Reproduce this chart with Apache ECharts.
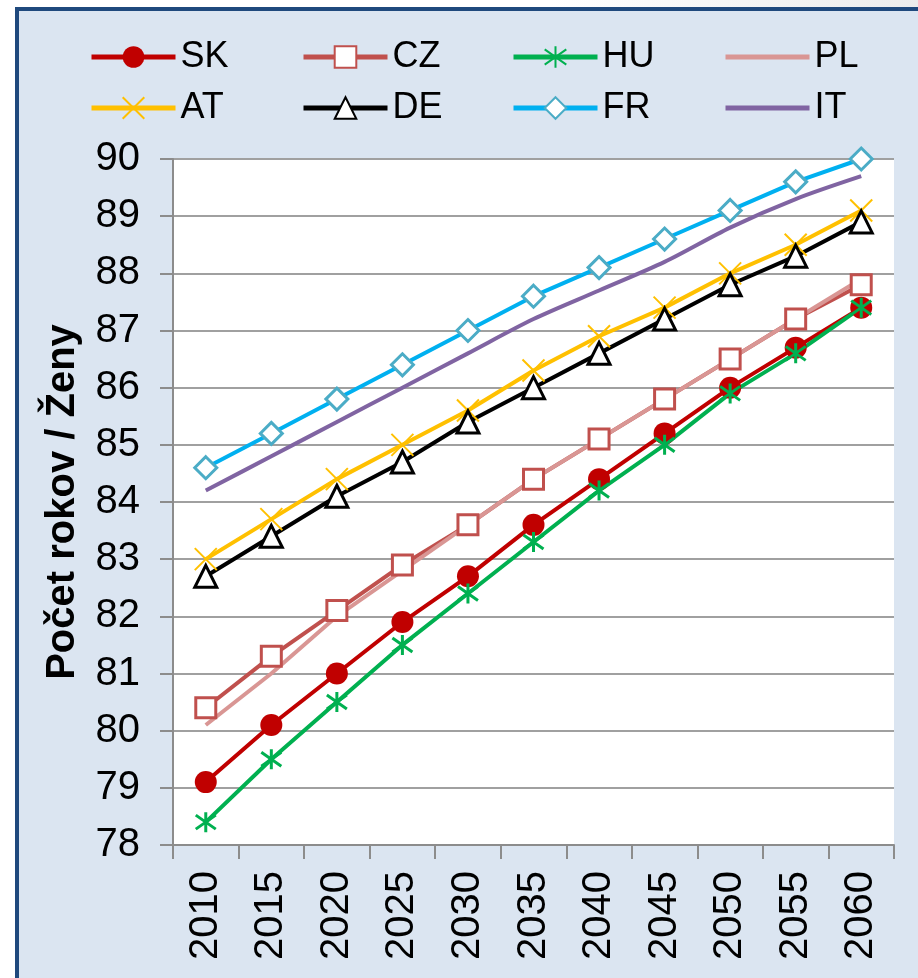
<!DOCTYPE html>
<html>
<head>
<meta charset="utf-8">
<script src="https://cdn.jsdelivr.net/npm/echarts@6/dist/echarts.min.js"></script>
<style>
  html, body {
    margin: 0;
    padding: 0;
    width: 918px;
    height: 978px;
    overflow: hidden;
    background: linear-gradient(to right, #ffffff 60%, #ececec);
  }
  .frame {
    position: absolute;
    left: 15px;
    top: 7px;
    right: 0;
    bottom: 0;
    background: #dbe5f1;
    border-left: 4px solid #1f497d;
    border-top: 4px solid #1f497d;
  }
  #chart {
    position: absolute;
    left: 0;
    top: 0;
    width: 918px;
    height: 978px;
  }
</style>
</head>
<body>
<div class="frame"></div>
<div id="chart"></div>
<script>
const years = ['2010', '2015', '2020', '2025', '2030', '2035', '2040', '2045', '2050', '2055', '2060']

const sk = [79.1, 80.1, 81.0, 81.9, 82.7, 83.6, 84.4, 85.2, 86.0, 86.7, 87.4]
const cz = [80.4, 81.3, 82.1, 82.9, 83.6, 84.4, 85.1, 85.8, 86.5, 87.2, 87.8]
const hu = [78.4, 79.5, 80.5, 81.5, 82.4, 83.3, 84.2, 85.0, 85.9, 86.6, 87.4]
const pl = [80.1, 81.0, 82.0, 82.8, 83.6, 84.4, 85.1, 85.8, 86.5, 87.2, 87.9]
const at = [83.0, 83.7, 84.4, 85.0, 85.6, 86.3, 86.9, 87.4, 88.0, 88.5, 89.1]
const de = [82.7, 83.4, 84.1, 84.7, 85.4, 86.0, 86.6, 87.2, 87.8, 88.3, 88.9]
const fr = [84.6, 85.2, 85.8, 86.4, 87.0, 87.6, 88.1, 88.6, 89.1, 89.6, 90.0]
const it = [84.2, 84.8, 85.4, 86.0, 86.6, 87.2, 87.7, 88.2, 88.8, 89.3, 89.7]

const font = 'Liberation Sans, Arial, sans-serif'
const starPath = 'path://M5,0L5,10M0,1.5L10,8.5M10,1.5L0,8.5'
const crossPath = 'path://M0,0L10,10M10,0L0,10'

const chart = echarts.init(document.getElementById('chart'))

const line = (name, data, color, extra) => Object.assign({
  name,
  type: 'line',
  data,
  lineStyle: { color, width: 4 },
  itemStyle: { color },
  symbol: 'none',
  emphasis: { disabled: true },
}, extra)

// lines without markers get a hidden legend symbol
const noMarker = ['PL', 'IT']

const legendCol = (left, names) => ({
  orient: 'vertical',
  left,
  top: 37,
  padding: 0,
  itemWidth: 84,
  itemHeight: 27,
  itemGap: 11,
  data: names.map(n => (noMarker.includes(n) ? { name: n, itemStyle: { opacity: 0 } } : n)),
  selectedMode: false,
  lineStyle: { width: 5 },
  textStyle: { fontSize: 36, fontFamily: font, color: '#000', lineHeight: 40 },
})

const option = {
  animation: false,
  backgroundColor: 'transparent',
  legend: [
    legendCol(89, ['SK', 'AT']),
    legendCol(301, ['CZ', 'DE']),
    legendCol(511, ['HU', 'FR']),
    legendCol(723, ['PL', 'IT']),
  ],
  grid: {
    left: 173,
    right: 24,
    top: 159,
    bottom: 133,
    show: true,
    backgroundColor: '#ffffff',
    borderWidth: 0,
  },
  xAxis: {
    type: 'category',
    data: years,
    boundaryGap: true,
    axisLine: { lineStyle: { color: '#8c8c8c', width: 2 } },
    axisTick: { show: true, length: 14, lineStyle: { color: '#8c8c8c', width: 2 } },
    axisLabel: {
      rotate: 90,
      margin: 26,
      fontSize: 40,
      fontFamily: font,
      color: '#000',
      interval: 0,
    },
  },
  yAxis: {
    type: 'value',
    min: 78,
    max: 90,
    interval: 1,
    name: 'Počet rokov / Ženy',
    nameLocation: 'middle',
    nameRotate: 90,
    nameGap: 90,
    nameTextStyle: { fontSize: 40, fontWeight: 'bold', fontFamily: font, color: '#000' },
    axisLine: { show: true, lineStyle: { color: '#8c8c8c', width: 2 } },
    axisTick: { show: true, length: 13, lineStyle: { color: '#8c8c8c', width: 2 } },
    axisLabel: { margin: 33, fontSize: 40, fontFamily: font, color: '#000' },
    splitLine: { lineStyle: { color: '#a0a0a0', width: 2 } },
  },
  series: [
    line('SK', sk, '#c00000', { symbol: 'circle', symbolSize: 22 }),
    line('CZ', cz, '#c0504d', {
      symbol: 'rect', symbolSize: 20,
      itemStyle: { color: '#ffffff', borderColor: '#c0504d', borderWidth: 3 },
    }),
    line('HU', hu, '#00b050', {
      symbol: starPath, symbolSize: 20,
      itemStyle: { color: '#00b050', borderColor: '#00b050', borderWidth: 3 },
    }),
    line('PL', pl, '#d99694'),
    line('AT', at, '#ffc000', {
      symbol: crossPath, symbolSize: 22,
      itemStyle: { color: '#ffc000', borderColor: '#ffc000', borderWidth: 2 },
    }),
    line('DE', de, '#000000', {
      symbol: 'triangle', symbolSize: 22,
      itemStyle: { color: '#ffffff', borderColor: '#000000', borderWidth: 3 },
    }),
    line('FR', fr, '#00b0f0', {
      symbol: 'diamond', symbolSize: 22,
      itemStyle: { color: '#ffffff', borderColor: '#4bacc6', borderWidth: 3 },
    }),
    line('IT', it, '#8064a2', { smooth: 0.3 }),
  ],
}

chart.setOption(option)
</script>
</body>
</html>
